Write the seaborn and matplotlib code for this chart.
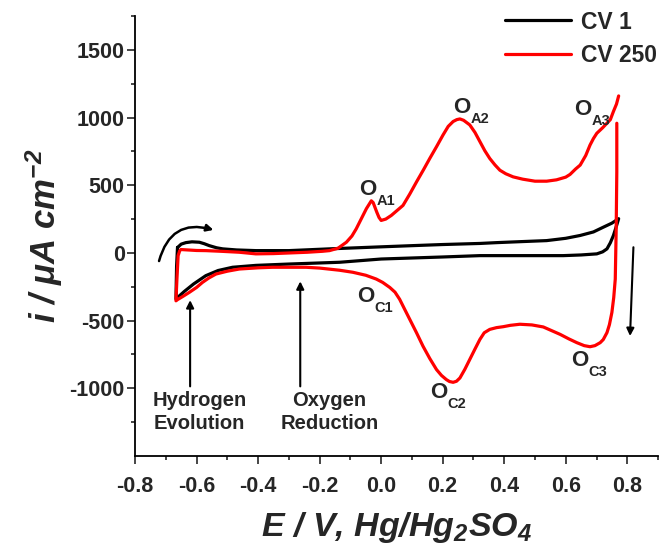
import numpy as np
import pandas as pd
import matplotlib
matplotlib.use("Agg")
import matplotlib.pyplot as plt
import seaborn as sns

# ---------------- data ----------------
cv1_E = [-0.662, -0.650, -0.635, -0.615, -0.591, -0.575, -0.559, -0.535, -0.515, -0.47, -0.407,
         -0.30, -0.168, 0.0, 0.104, 0.20, 0.321, 0.375, 0.45, 0.538, 0.60, 0.647, 0.69, 0.723,
         0.75, 0.772,
         0.765, 0.755, 0.745, 0.734, 0.72, 0.701, 0.65, 0.592, 0.45, 0.321, 0.2, 0.0, -0.135,
         -0.298, -0.407, -0.483, -0.53, -0.570, -0.61, -0.64, -0.667, -0.665, -0.662]
cv1_i = [40, 65, 76, 82, 79, 68, 54, 38, 30, 22, 17,
         17, 30, 45, 54, 62, 70, 76, 83, 91, 108, 129, 155, 191,
         220, 253,
         200, 129, 75, 30, 8, -7, -15, -20, -20, -20, -30, -45, -69,
         -82, -92, -106, -130, -168, -230, -285, -340, -100, 40]

cv250_E = [0.766, 0.766, 0.764, 0.761, 0.756, 0.750, 0.742, 0.734, 0.722, 0.712, 0.695, 0.679,
           0.66, 0.636, 0.61, 0.582, 0.555, 0.527, 0.49, 0.451, 0.42, 0.397, 0.375, 0.353, 0.335,
           0.321, 0.305, 0.288, 0.272, 0.256, 0.245, 0.234, 0.222, 0.212, 0.196, 0.180, 0.158,
           0.136, 0.115, 0.093, 0.075, 0.060, 0.045, 0.028, 0.005, -0.016, -0.05, -0.092, -0.135,
           -0.2, -0.244, -0.30, -0.353, -0.40, -0.461, -0.50, -0.537, -0.56, -0.581, -0.60,
           -0.624, -0.645, -0.662, -0.667,
           -0.664, -0.660, -0.655, -0.651, -0.63, -0.60, -0.570, -0.52, -0.461, -0.407, -0.35,
           -0.298, -0.24, -0.191, -0.168, -0.14, -0.113, -0.095, -0.081, -0.065, -0.048, -0.032,
           -0.026, -0.020, -0.014, -0.007, 0.0, 0.015, 0.033, 0.05, 0.071, 0.093, 0.115, 0.137,
           0.158, 0.18, 0.201, 0.218, 0.234, 0.246, 0.256, 0.268, 0.288, 0.305, 0.321, 0.337,
           0.353, 0.37, 0.386, 0.405, 0.429, 0.46, 0.50, 0.538, 0.57, 0.60, 0.614, 0.632, 0.647,
           0.665, 0.679, 0.69, 0.701, 0.72, 0.734, 0.745, 0.755, 0.765, 0.772]
cv250_i = [958, 600, 178, -193, -330, -440, -530, -589, -640, -663, -685, -693,
           -685, -663, -635, -602, -575, -547, -532, -527, -535, -545, -552, -565, -590,
           -639, -710, -788, -860, -924, -948, -956, -950, -936, -905, -862, -780,
           -689, -590, -490, -410, -342, -290, -255, -218, -193, -165, -143, -128,
           -112, -106, -106, -106, -110, -119, -135, -156, -185, -218, -255,
           -292, -322, -345, -354,
           -200, -20, 15, 25, 22, 18, 17, 12, 5, -7, -5,
           0, 5, 12, 17, 35, 79, 125, 178, 250, 327, 385,
           372, 335, 300, 262, 240, 250, 277, 310, 351, 435, 525, 612,
           698, 785, 871, 935, 971, 985, 990, 980, 946, 890, 822, 755,
           698, 650, 611, 585, 562, 545, 530, 530, 540, 560, 580, 620, 649,
           720, 797, 845, 884, 925, 958, 985, 1045, 1100, 1160]

series_names = ["CV 1", "CV 250"]
series_colors = ["#000000", "#ff0000"]

x_ticks = [-0.8, -0.6, -0.4, -0.2, 0.0, 0.2, 0.4, 0.6, 0.8]
y_ticks = [-1000, -500, 0, 500, 1000, 1500]

peak_labels = [("A1", -0.072, 426), ("A2", 0.234, 1033), ("A3", 0.628, 1020),
               ("C1", -0.079, -362), ("C2", 0.158, -1072), ("C3", 0.617, -837)]

# ---------------- style ----------------
sns.set_style("ticks")
plt.rcParams["font.family"] = ["Liberation Sans", "DejaVu Sans"]
plt.rcParams["font.weight"] = "bold"
plt.rcParams["axes.unicode_minus"] = False
plt.rcParams["mathtext.fontset"] = "custom"
plt.rcParams["mathtext.rm"] = "Liberation Sans:bold:italic"
plt.rcParams["mathtext.it"] = "Liberation Sans:bold:italic"
plt.rcParams["mathtext.bf"] = "Liberation Sans:bold:italic"

fig = plt.figure(figsize=(6.62, 5.54), dpi=100)
ax = fig.add_axes([0.204, 0.177, 0.790, 0.794])

df1 = pd.DataFrame({"E": cv1_E, "i": cv1_i, "s": series_names[0]})
df2 = pd.DataFrame({"E": cv250_E, "i": cv250_i, "s": series_names[1]})
sns.lineplot(data=df1, x="E", y="i", sort=False, color=series_colors[0], lw=2.3,
             ax=ax, label=series_names[0], estimator=None)
sns.lineplot(data=df2, x="E", y="i", sort=False, color=series_colors[1], lw=2.3,
             ax=ax, label=series_names[1], estimator=None)

ax.set_xlim(-0.8, 0.9)
ax.set_ylim(-1500, 1750)
ax.set_xticks(x_ticks)
ax.set_xticklabels([f"{v:.1f}" for v in x_ticks])
ax.set_yticks(y_ticks)
ax.set_yticklabels([str(v) for v in y_ticks])
ax.set_xticks(np.arange(-0.7, 0.95, 0.2), minor=True)
ax.set_yticks(np.arange(-1250, 1800, 500), minor=True)
ax.tick_params(which="major", direction="out", length=5.5, width=1.2, labelsize=15.5)
ax.tick_params(axis="x", which="major", pad=9)
ax.tick_params(axis="y", which="major", pad=2)
ax.tick_params(which="minor", direction="out", length=3, width=1.2)
for lab in ax.get_xticklabels() + ax.get_yticklabels():
    lab.set_fontweight("bold")
for sp in ["top", "right"]:
    ax.spines[sp].set_visible(False)
for sp in ["left", "bottom"]:
    ax.spines[sp].set_linewidth(1.3)
    ax.spines[sp].set_color("black")

ax.set_xlabel("E / V, Hg/Hg$_2$SO$_4$", fontsize=24.5, fontstyle="italic",
              fontweight="bold", labelpad=9)
ax.set_ylabel("i / \u03bcA cm$^{-2}$", fontsize=25, fontstyle="italic",
              fontweight="bold", labelpad=3)

leg = ax.legend(loc="upper right", bbox_to_anchor=(1.016, 1.01), bbox_transform=fig.transFigure,
                frameon=False, fontsize=16.5, handlelength=2.9, labelspacing=0.45,
                handletextpad=0.4, borderaxespad=0.3)
for t in leg.get_texts():
    t.set_fontweight("bold")

# peak labels
for sub, e, i in peak_labels:
    ax.text(e, i, "O", fontsize=16, fontweight="bold", ha="left", va="baseline")
    ax.annotate(sub, xy=(e, i), xytext=(12.5, -7), textcoords="offset points",
                fontsize=10.5, fontweight="bold", ha="left", va="baseline")

# arrows
ap = dict(arrowstyle="-|>", color="black", lw=1.5, mutation_scale=11, shrinkA=0, shrinkB=0)
ax.annotate("", xy=(-0.621, -349), xytext=(-0.621, -986), arrowprops=ap)
ax.annotate("", xy=(-0.263, -210), xytext=(-0.263, -986), arrowprops=ap)
ax.annotate("", xy=(0.809, -614), xytext=(0.820, 42), arrowprops=ap)
ax.annotate("", xy=(-0.545, 170), xytext=(-0.722, -60),
            arrowprops=dict(arrowstyle="-|>", color="black", lw=1.8, mutation_scale=10,
                            shrinkA=0, shrinkB=0, connectionstyle="arc3,rad=-0.5"))

ax.text(-0.591, -1174, "Hydrogen\nEvolution", fontsize=14.5, fontweight="bold",
        ha="center", va="center", linespacing=1.3)
ax.text(-0.168, -1174, "Oxygen\nReduction", fontsize=14.5, fontweight="bold",
        ha="center", va="center", linespacing=1.3)

fig.savefig("out.png", dpi=100)
